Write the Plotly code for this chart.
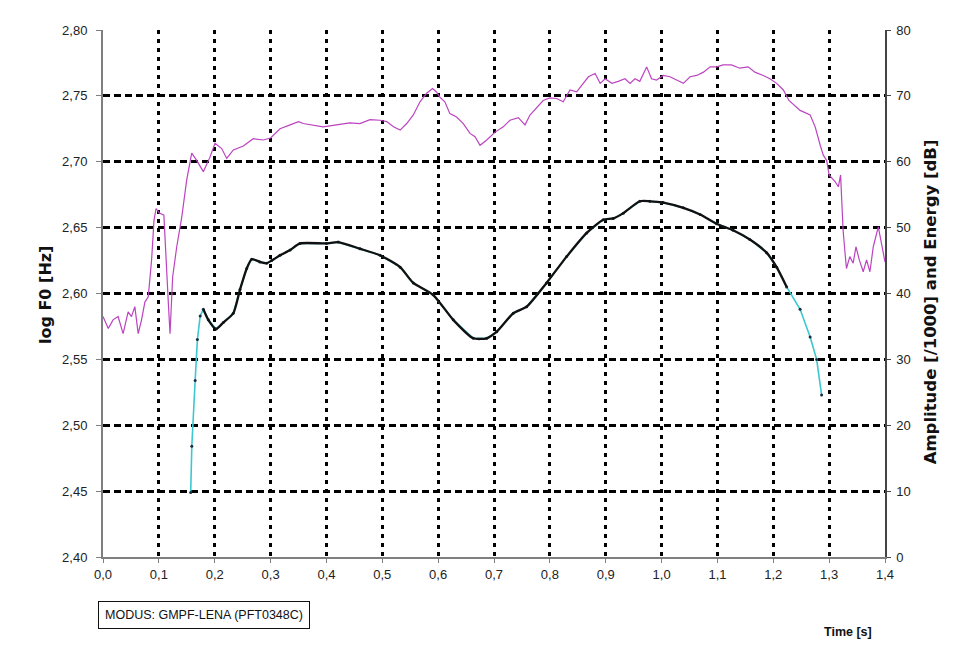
import plotly.graph_objects as go

# --- log F0 contour [Hz, log10] ---
f0_time = [0.157, 0.159, 0.165, 0.169, 0.174, 0.1796, 0.1885, 0.2023, 0.2154, 0.2333,
           0.2453, 0.2573, 0.2662, 0.281, 0.293, 0.302, 0.317, 0.335, 0.3527, 0.400,
           0.421, 0.460, 0.496, 0.532, 0.5555, 0.591, 0.627, 0.663, 0.687, 0.705,
           0.7345, 0.7585, 0.794, 0.830, 0.866, 0.8956, 0.9135, 0.9315, 0.961, 0.979,
           1.003, 1.039, 1.069, 1.0986, 1.128, 1.158, 1.188, 1.206, 1.224, 1.248,
           1.266, 1.2776, 1.2865]
f0_log = [2.449, 2.484, 2.534, 2.565, 2.583, 2.588, 2.580, 2.573, 2.578, 2.585,
          2.603, 2.619, 2.626, 2.624, 2.623, 2.625, 2.629, 2.633, 2.638, 2.638,
          2.639, 2.634, 2.629, 2.620, 2.608, 2.599, 2.580, 2.566, 2.566, 2.571,
          2.585, 2.590, 2.608, 2.628, 2.646, 2.656, 2.657, 2.661, 2.670, 2.670,
          2.669, 2.665, 2.660, 2.653, 2.648, 2.641, 2.631, 2.620, 2.605, 2.588,
          2.567, 2.550, 2.523]

# --- Energy contour [dB] ---
en_time = [0.000, 0.0095, 0.018, 0.027, 0.036, 0.045, 0.051, 0.057, 0.063, 0.069,
           0.075, 0.081, 0.087, 0.0913, 0.095, 0.101, 0.109, 0.113, 0.117, 0.120,
           0.1247, 0.132, 0.141, 0.1498, 0.1588, 0.1677, 0.1796, 0.1915, 0.2005, 0.2125,
           0.2215, 0.2333, 0.2512, 0.269, 0.287, 0.300, 0.317, 0.335, 0.350, 0.3586,
           0.3766, 0.394, 0.418, 0.442, 0.460, 0.478, 0.496, 0.508, 0.520, 0.532,
           0.5437, 0.5555, 0.5675, 0.5795, 0.590, 0.597, 0.603, 0.612, 0.621, 0.633,
           0.645, 0.657, 0.666, 0.675, 0.687, 0.702, 0.7166, 0.7286, 0.7435, 0.7555,
           0.7644, 0.7764, 0.788, 0.800, 0.812, 0.824, 0.836, 0.848, 0.860, 0.869,
           0.881, 0.890, 0.899, 0.911, 0.9225, 0.9345, 0.9435, 0.9524, 0.961, 0.9733,
           0.982, 0.991, 1.003, 1.015, 1.027, 1.039, 1.051, 1.063, 1.075, 1.087,
           1.099, 1.110, 1.125, 1.140, 1.155, 1.167, 1.182, 1.194, 1.206, 1.218,
           1.228, 1.248, 1.266, 1.275, 1.284, 1.2895, 1.2955, 1.300, 1.3105, 1.3165,
           1.3205, 1.322, 1.325, 1.328, 1.331, 1.337, 1.343, 1.348, 1.354, 1.361,
           1.367, 1.373, 1.379, 1.388, 1.394, 1.400]
en_db = [36.5, 34.7, 36.0, 36.5, 33.9, 37.2, 36.5, 38.0, 33.9, 36.0,
         38.7, 39.5, 45.1, 51.1, 52.9, 52.2, 51.9, 46.1, 38.5, 33.9,
         42.5, 47.1, 51.6, 57.2, 61.3, 60.2, 58.5, 60.7, 62.8, 62.0,
         60.5, 61.8, 62.4, 63.5, 63.3, 63.6, 65.0, 65.6, 66.1, 65.8,
         65.6, 65.3, 65.6, 65.9, 65.8, 66.4, 66.3, 66.1, 65.3, 64.8,
         65.8, 67.1, 69.1, 70.4, 71.1, 70.6, 69.8, 69.1, 67.3, 66.8,
         65.8, 64.3, 63.8, 62.5, 63.3, 64.5, 65.3, 66.3, 66.7, 65.6,
         67.1, 68.3, 69.3, 69.7, 69.6, 69.1, 70.9, 70.6, 71.9, 72.9,
         73.4, 71.9, 72.6, 71.9, 72.2, 72.6, 71.9, 72.6, 72.2, 74.4,
         72.6, 72.4, 73.1, 72.9, 72.4, 71.9, 72.9, 73.1, 73.6, 74.4,
         74.4, 74.7, 74.7, 74.2, 74.4, 73.6, 73.1, 72.6, 71.9, 70.9,
         69.3, 67.8, 67.1, 65.3, 62.5, 61.0, 60.2, 58.0, 57.0, 56.2,
         58.0, 54.2, 49.6, 46.6, 43.8, 45.6, 44.6, 47.1, 45.1, 43.3,
         45.1, 43.3, 47.1, 50.1, 47.6, 44.8]

x_ticks = [round(0.1 * i, 1) for i in range(15)]
y_ticks = [round(2.40 + 0.05 * i, 2) for i in range(9)]
y2_ticks = list(range(0, 81, 10))

FONT = "Liberation Sans, Arial, sans-serif"
TITLE_FONT = "DejaVu Sans, Liberation Sans, sans-serif"

fig = go.Figure()

# energy (right axis)
fig.add_trace(go.Scatter(
    x=en_time, y=en_db, yaxis="y2", mode="lines",
    line=dict(color="#BC44C0", width=1.2), showlegend=False,
))

# F0: thin cyan line with sample dots ...
fig.add_trace(go.Scatter(
    x=f0_time, y=f0_log, mode="lines+markers",
    line=dict(color="#3CC8D0", width=1.6),
    marker=dict(color="#1A2E40", size=3), showlegend=False,
))
# ... and the densely sampled voiced part, which reads as a solid black line
i0, i1 = 5, 49
fig.add_trace(go.Scatter(
    x=f0_time[i0:i1], y=f0_log[i0:i1], mode="lines",
    line=dict(color="#111111", width=2.3, shape="spline", smoothing=0.6),
    showlegend=False,
))

fig.update_layout(
    width=978, height=665,
    margin=dict(l=103, r=93, t=30, b=108),
    paper_bgcolor="white", plot_bgcolor="white",
    separators=",.",
    font=dict(family=FONT, size=13, color="#222222"),
    xaxis=dict(
        range=[0, 1.4], tickvals=x_ticks, tickformat=".1f",
        showgrid=True, gridcolor="black", gridwidth=2.5, griddash="4px,5px",
        showline=True, linecolor="#7F7F7F", linewidth=2, mirror=False,
        ticks="outside", ticklen=4, tickcolor="#7F7F7F",
        zeroline=False,
    ),
    yaxis=dict(
        range=[2.40, 2.80], tickvals=y_ticks, tickformat=".2f",
        showgrid=True, gridcolor="black", gridwidth=2.5, griddash="7px,4px",
        showline=True, linecolor="#7F7F7F", linewidth=2,
        ticks="outside", ticklen=5, tickcolor="#7F7F7F",
        ticklabelstandoff=6, zeroline=False,
    ),
    yaxis2=dict(
        range=[0, 80], tickvals=y2_ticks, overlaying="y", side="right",
        showgrid=False, showline=True, linecolor="#444444", linewidth=1.5,
        ticks="outside", ticklen=4, tickcolor="#444444",
        ticklabelstandoff=3, zeroline=False,
    ),
    annotations=[
        dict(text="<b>log F0 [Hz]</b>", xref="paper", yref="paper",
             x=-0.0742, y=0.497, xanchor="center", yanchor="middle",
             textangle=-90, showarrow=False,
             font=dict(family=TITLE_FONT, size=16, color="#111111")),
        dict(text="<b>Amplitude [/1000] and Energy [dB]</b>", xref="paper", yref="paper",
             x=1.0575, y=0.485, xanchor="center", yanchor="middle",
             textangle=-90, showarrow=False,
             font=dict(family=TITLE_FONT, size=16.5, color="#111111")),
        dict(text="<b>Time [s]</b>", xref="paper", yref="paper",
             x=0.9527, y=-0.1423, xanchor="center", yanchor="middle", showarrow=False,
             font=dict(size=12.5, color="#111111")),
        dict(text="MODUS: GMPF-LENA (PFT0348C)", xref="paper", yref="paper",
             x=-0.006, y=-0.111, xanchor="left", yanchor="middle", showarrow=False,
             bordercolor="#111111", borderwidth=1, borderpad=6, bgcolor="white",
             font=dict(size=12.5, color="#111111")),
    ],
)

fig.write_html("out.html")
